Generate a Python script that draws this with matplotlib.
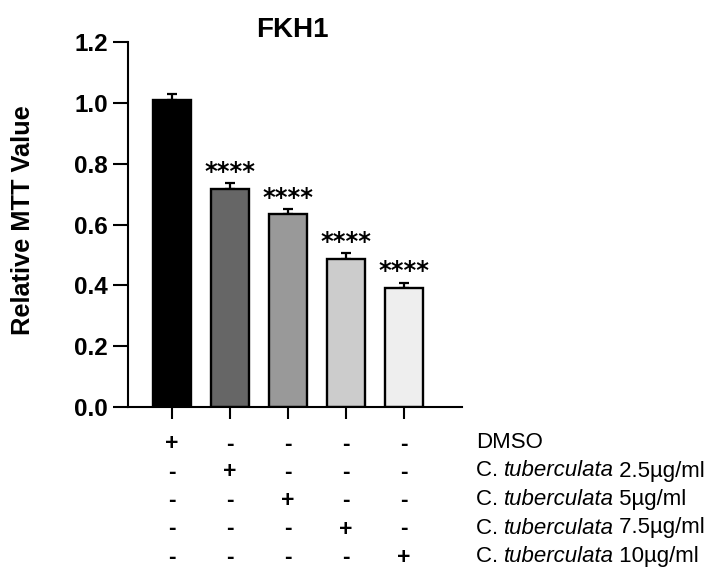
import matplotlib
matplotlib.use("Agg")
import matplotlib.pyplot as plt
from matplotlib import transforms

# ---------------- data ----------------
title = "FKH1"
ylabel = "Relative MTT Value"
bar_groups = ["DMSO", "C.t 2.5", "C.t 5", "C.t 7.5", "C.t 10"]
values = [1.010, 0.717, 0.634, 0.487, 0.391]
errors = [0.020, 0.018, 0.017, 0.020, 0.018]
significance = ["", "****", "****", "****", "****"]
yticks = [0.0, 0.2, 0.4, 0.6, 0.8, 1.0, 1.2]
ytick_labels = ["0.0", "0.2", "0.4", "0.6", "0.8", "1.0", "1.2"]
# treatment rows: (prefix, italic part, suffix)
row_prefix = ["DMSO", "C. ", "C. ", "C. ", "C. "]
row_italic = ["", "tuberculata", "tuberculata", "tuberculata", "tuberculata"]
row_suffix = ["", " 2.5µg/ml", " 5µg/ml", " 7.5µg/ml", " 10µg/ml"]
design = [
    ["+", "-", "-", "-", "-"],
    ["-", "+", "-", "-", "-"],
    ["-", "-", "+", "-", "-"],
    ["-", "-", "-", "+", "-"],
    ["-", "-", "-", "-", "+"],
]
bar_colors = ["#000000", "#666666", "#999999", "#cccccc", "#eeeeee"]

# ---------------- figure ----------------
W, H = 714, 577
fig = plt.figure(figsize=(W / 100, H / 100), dpi=100)
plt.rcParams["font.family"] = ["Liberation Sans", "DejaVu Sans"]

ax_left, ax_right, ax_top, ax_bottom = 128, 462, 42, 407
ax = fig.add_axes([ax_left / W, 1 - ax_bottom / H,
                   (ax_right - ax_left) / W, (ax_bottom - ax_top) / H])

x = list(range(len(values)))
ax.bar(x, values, width=0.66, color=bar_colors, edgecolor="black",
       linewidth=1.7, zorder=2)
ax.errorbar(x, values, yerr=[[0] * len(errors), errors], fmt="none",
            ecolor="black", elinewidth=1.6, capsize=3.3, capthick=1.6, zorder=1)

for xi, v, e, s in zip(x, values, errors, significance):
    if s:
        ax.annotate(s, xy=(xi, v + e), xytext=(0, 3), textcoords="offset points",
                    ha="center", va="baseline", fontsize=17.5, fontweight="bold",
                    family="DejaVu Sans", color="black")

ax.set_xlim(-0.76, 5.0)
ax.set_ylim(0, 1.2)
ax.set_yticks(yticks)
ax.set_yticklabels(ytick_labels, fontsize=17.5, fontweight="bold")
ax.set_xticks(x)
ax.set_xticklabels([])
ax.tick_params(axis="y", length=10.8, width=1.5, pad=3.5)
ax.tick_params(axis="x", length=8.6, width=1.5)
for side in ("top", "right"):
    ax.spines[side].set_visible(False)
for side in ("left", "bottom"):
    ax.spines[side].set_linewidth(1.5)

ax.text((23 - ax_left) / (ax_right - ax_left), (ax_bottom - 220) / (ax_bottom - ax_top),
        ylabel, transform=ax.transAxes, rotation=90, ha="center", va="center",
        fontsize=18.3, fontweight="bold")

fig.text(292 / W, 1 - 37 / H, title, ha="center", va="baseline",
         fontsize=20, fontweight="bold")

# ---------------- treatment table ----------------
blend = transforms.blended_transform_factory(ax.transData, fig.transFigure)
row_y = [443, 471, 499.5, 528, 556.5]
for r, yy in enumerate(row_y):
    for c in range(len(values)):
        ax.text(c, 1 - (yy + 1) / H, design[r][c], transform=blend,
                ha="center", va="center", fontsize=16.5, fontweight="bold",
                clip_on=False)
    t1 = fig.text(476 / W, 1 - yy / H, row_prefix[r], ha="left", va="center",
                  fontsize=16)
    if row_italic[r]:
        a2 = ax.annotate(row_italic[r], xy=(1, 0), xycoords=t1, ha="left",
                         va="bottom", fontsize=16, style="italic",
                         annotation_clip=False)
        ax.annotate(row_suffix[r], xy=(1, 0), xycoords=a2, xytext=(-0.7, 0),
                    textcoords="offset points", ha="left",
                    va="bottom", fontsize=16, annotation_clip=False)

fig.savefig("out.png", dpi=100)
